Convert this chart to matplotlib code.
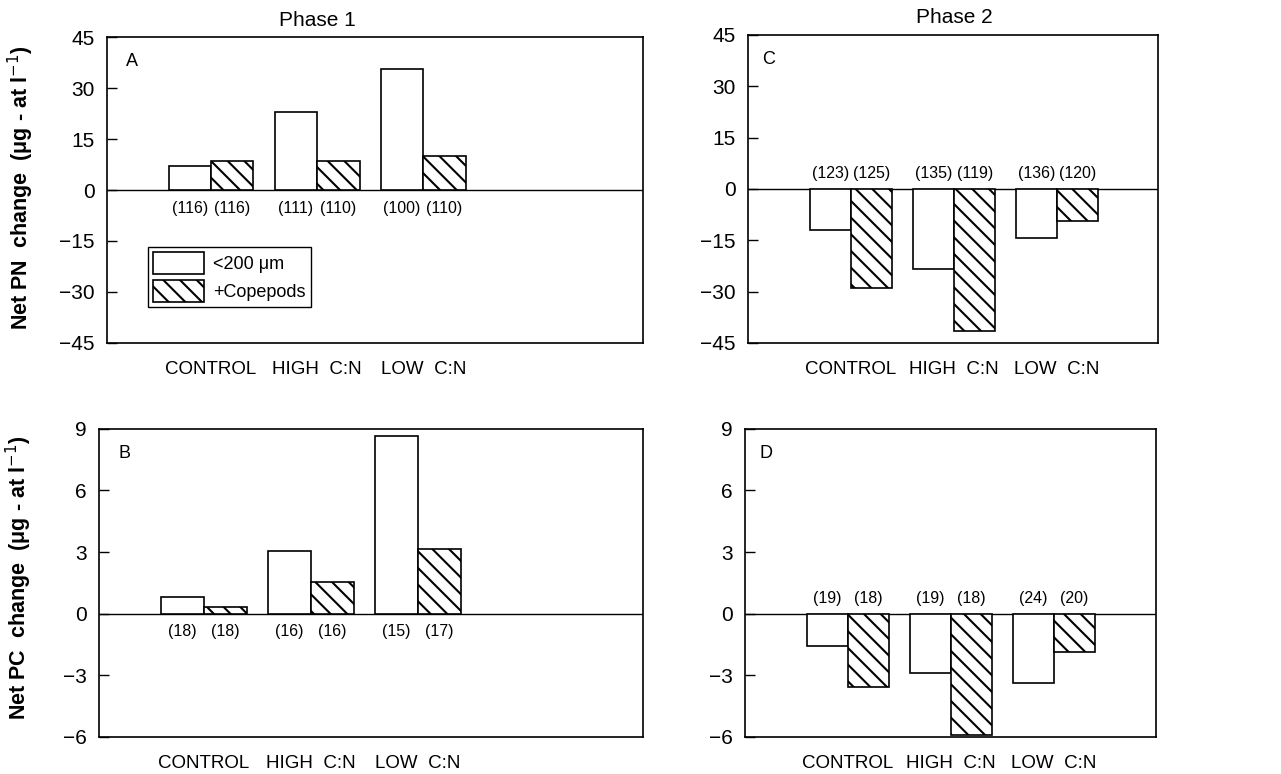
import matplotlib.pyplot as plt
import numpy as np

plt.rcParams['font.family'] = ['Liberation Sans', 'DejaVu Sans']
plt.rcParams['hatch.linewidth'] = 1.5

groups = ['CONTROL', 'HIGH  C:N', 'LOW  C:N']
series = ['<200 \u03bcm', '+Copepods']

# panel A: Net PN, phase 1
pn1_small = [7.0, 23.0, 35.5]
pn1_cope = [8.5, 8.5, 10.0]
pn1_n = [['(116)', '(116)'], ['(111)', '(110)'], ['(100)', '(110)']]
# panel C: Net PN, phase 2
pn2_small = [-12.0, -23.5, -14.5]
pn2_cope = [-29.0, -41.5, -9.5]
pn2_n = [['(123)', '(125)'], ['(135)', '(119)'], ['(136)', '(120)']]
# panel B: Net PC, phase 1
pc1_small = [0.83, 3.06, 8.67]
pc1_cope = [0.34, 1.54, 3.16]
pc1_n = [['(18)', '(18)'], ['(16)', '(16)'], ['(15)', '(17)']]
# panel D: Net PC, phase 2
pc2_small = [-1.6, -2.9, -3.4]
pc2_cope = [-3.55, -5.9, -1.85]
pc2_n = [['(19)', '(18)'], ['(19)', '(18)'], ['(24)', '(20)']]

fig = plt.figure(figsize=(12.81, 7.74), dpi=100)

axA = fig.add_axes([0.0835, 0.557, 0.4185, 0.395])
axB = fig.add_axes([0.0773, 0.048, 0.4247, 0.398])
axC = fig.add_axes([0.584, 0.557, 0.320, 0.398])
axD = fig.add_axes([0.5816, 0.048, 0.3208, 0.398])

w = 0.4
x = np.arange(1, 4)


def panel(ax, small, cope, counts, letter, ylim, yticks, xlim, below):
    b1 = ax.bar(x - w / 2, small, w, color='white', edgecolor='black',
                linewidth=1.2, label=series[0])
    b2 = ax.bar(x + w / 2, cope, w, color='white', edgecolor='black',
                linewidth=1.2, hatch='\\\\', label=series[1])
    ax.axhline(0, color='black', lw=1.0, zorder=0.5)
    ax.set_xlim(*xlim)
    ax.set_ylim(*ylim)
    ax.set_yticks(yticks)
    ax.set_xticks(x)
    ax.set_xticklabels(groups, fontsize=13.5)
    ax.tick_params(axis='x', length=0, pad=13)
    ax.tick_params(axis='y', direction='in', length=7, width=1.0,
                   labelsize=15, pad=9)
    for s in ax.spines.values():
        s.set_linewidth(1.2)
    off = -13 if below else 11
    for i in range(3):
        for j, xx in enumerate([x[i] - w / 2, x[i] + w / 2]):
            ax.annotate(counts[i][j], (xx, 0), xytext=(0, off),
                        textcoords='offset points', ha='center',
                        va='center', fontsize=11.5)
    ax.text(0.035, 0.92, letter, transform=ax.transAxes, fontsize=13,
            va='center', ha='left')
    return b1, b2


panel(axA, pn1_small, pn1_cope, pn1_n, 'A', (-45, 45),
      [-45, -30, -15, 0, 15, 30, 45], (0.02, 5.07), True)
panel(axB, pc1_small, pc1_cope, pc1_n, 'B', (-6, 9),
      [-6, -3, 0, 3, 6, 9], (0.02, 5.1), True)
panel(axC, pn2_small, pn2_cope, pn2_n, 'C', (-45, 45),
      [-45, -30, -15, 0, 15, 30, 45], (0.0, 3.98), False)
panel(axD, pc2_small, pc2_cope, pc2_n, 'D', (-6, 9),
      [-6, -3, 0, 3, 6, 9], (0.0, 3.99), False)

leg = axA.legend(loc='upper left', bbox_to_anchor=(0.0765, 0.314),
                 borderaxespad=0, fancybox=False, edgecolor='black',
                 framealpha=1, fontsize=13, handlelength=2.8,
                 handleheight=1.5, handletextpad=0.5, borderpad=0.3,
                 labelspacing=0.3)
leg.get_frame().set_linewidth(1.0)

for ax, t in [(axA, 'Phase 1'), (axC, 'Phase 2')]:
    ax.text(2, 1.056, t, transform=ax.get_xaxis_transform(), ha='center',
            va='center', fontsize=15)

fig.text(0.016, 0.757, 'Net PN  change  (\u03bcg - at l$^{-1}$)',
         rotation=90, ha='center', va='center', fontsize=15.5,
         fontweight='bold')
fig.text(0.015, 0.253, 'Net PC  change  (\u03bcg - at l$^{-1}$)',
         rotation=90, ha='center', va='center', fontsize=15.5,
         fontweight='bold')

fig.savefig('out.png', dpi=100)
